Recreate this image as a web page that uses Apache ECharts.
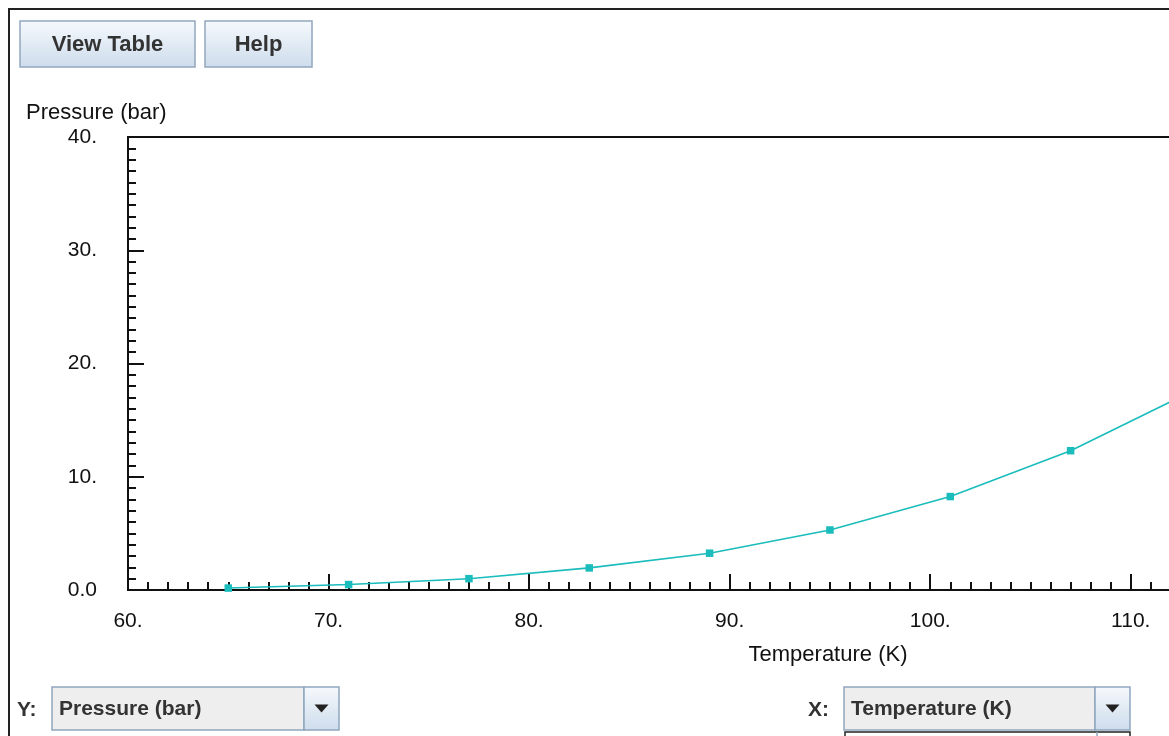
<!DOCTYPE html>
<html>
<head>
<meta charset="utf-8">
<script src="https://cdn.jsdelivr.net/npm/echarts@6/dist/echarts.min.js"></script>
<style>
  html, body { margin: 0; padding: 0; background: #ffffff; overflow: hidden; }
  #chart { width: 1220px; height: 736px; }
</style>
</head>
<body>
<div id="chart"></div>
<script>
// ---- data ----
const temperatures = [65, 71, 77, 83, 89, 95, 101, 107, 113];
const pressures = [0.17, 0.48, 1.0, 1.95, 3.25, 5.3, 8.25, 12.3, 17.5];

const xTickValues = [60, 70, 80, 90, 100, 110];
const xTickLabels = ['60.', '70.', '80.', '90.', '100.', '110.'];
const yTickValues = [0, 10, 20, 30, 40];
const yTickLabels = ['0.0', '10.', '20.', '30.', '40.'];

const xTitle = 'Temperature (K)';
const yTitle = 'Pressure (bar)';
const buttonLabels = ['View Table', 'Help'];
const yChoice = 'Pressure (bar)';
const xChoice = 'Temperature (K)';

// ---- chart ----
const FONT = '"Liberation Sans", Arial, sans-serif';
const chart = echarts.init(document.getElementById('chart'), null, { renderer: 'canvas' });

const seriesData = temperatures.map((t, i) => [t, pressures[i]]);

function btnGradient() {
  return {
    type: 'linear', x: 0, y: 0, x2: 0, y2: 1,
    colorStops: [
      { offset: 0, color: '#f6f9fc' },
      { offset: 1, color: '#cddcec' }
    ]
  };
}

function button(x, y, w, h, label) {
  return [
    {
      type: 'rect', x: x, y: y,
      shape: { width: w, height: h },
      style: { fill: btnGradient(), stroke: '#93a8bf', lineWidth: 1.5 }
    },
    {
      type: 'text', x: x + w / 2, y: y + h / 2 + 1,
      style: {
        text: label, fontSize: 22, fontWeight: 'bold', fontFamily: FONT,
        fill: '#333333', align: 'center', verticalAlign: 'middle'
      }
    }
  ];
}

function combo(x, y, w, h, arrowW, label) {
  return [
    {
      type: 'rect', x: x, y: y,
      shape: { width: w - arrowW, height: h },
      style: { fill: '#eeeeee', stroke: '#8ea6be', lineWidth: 1.5 }
    },
    {
      type: 'rect', x: x + w - arrowW, y: y,
      shape: { width: arrowW, height: h },
      style: { fill: btnGradient(), stroke: '#8ea6be', lineWidth: 1.5 }
    },
    {
      type: 'polygon',
      shape: {
        points: [
          [x + w - arrowW / 2 - 7, y + h / 2 - 4],
          [x + w - arrowW / 2 + 7, y + h / 2 - 4],
          [x + w - arrowW / 2, y + h / 2 + 4]
        ]
      },
      style: { fill: '#222222' }
    },
    {
      type: 'text', x: x + 7, y: y + h / 2 + 1,
      style: {
        text: label, fontSize: 21, fontWeight: 'bold', fontFamily: FONT,
        fill: '#333333', align: 'left', verticalAlign: 'middle'
      }
    }
  ];
}

const graphics = [].concat(
  [{
    type: 'rect', x: 9, y: 9,
    shape: { width: 1400, height: 900 },
    style: { fill: 'none', stroke: '#222222', lineWidth: 2 },
    z: 0
  }],
  button(20, 21, 175, 46, buttonLabels[0]),
  button(205, 21, 107, 46, buttonLabels[1]),
  [
    {
      type: 'text', x: 26, y: 113,
      style: { text: yTitle, fontSize: 22, fontFamily: FONT, fill: '#111111', align: 'left', verticalAlign: 'middle' }
    },
    {
      type: 'text', x: 828, y: 655,
      style: { text: xTitle, fontSize: 22, fontFamily: FONT, fill: '#111111', align: 'center', verticalAlign: 'middle' }
    },
    {
      type: 'text', x: 17, y: 710,
      style: { text: 'Y:', fontSize: 21, fontWeight: 'bold', fontFamily: FONT, fill: '#333333', align: 'left', verticalAlign: 'middle' }
    },
    {
      type: 'text', x: 808, y: 710,
      style: { text: 'X:', fontSize: 21, fontWeight: 'bold', fontFamily: FONT, fill: '#333333', align: 'left', verticalAlign: 'middle' }
    },
    {
      type: 'rect', x: 845, y: 732,
      shape: { width: 285, height: 40 },
      style: { fill: '#ffffff', stroke: '#222222', lineWidth: 1.5 }
    },
    {
      type: 'line',
      shape: { x1: 1097, y1: 732, x2: 1097, y2: 770 },
      style: { stroke: '#8ea6be', lineWidth: 1.5 }
    }
  ],
  combo(52, 687, 287, 43, 35, yChoice),
  combo(844, 687, 286, 43, 35, xChoice)
);

const option = {
  animation: false,
  backgroundColor: '#ffffff',
  grid: {
    left: 128, top: 137, width: 1083, height: 453,
    show: true, borderColor: '#111111', borderWidth: 2, backgroundColor: 'transparent'
  },
  xAxis: {
    type: 'value', min: 60, max: 114, interval: 10,
    axisLine: { show: true, onZero: false, lineStyle: { color: '#111111', width: 2 } },
    axisTick: { show: true, inside: true, length: 16, lineStyle: { color: '#111111', width: 2 } },
    minorTick: { show: true, splitNumber: 10, length: 8, lineStyle: { color: '#111111', width: 2 } },
    splitLine: { show: false },
    axisLabel: {
      margin: 21, fontSize: 21, fontFamily: FONT, color: '#111111',
      formatter: function (v) {
        const i = xTickValues.indexOf(v);
        return i >= 0 ? xTickLabels[i] : '';
      }
    }
  },
  yAxis: {
    type: 'value', min: 0, max: 40, interval: 10,
    axisLine: { show: true, onZero: false, lineStyle: { color: '#111111', width: 2 } },
    axisTick: { show: true, inside: true, length: 16, lineStyle: { color: '#111111', width: 2 } },
    minorTick: { show: true, splitNumber: 10, length: 8, lineStyle: { color: '#111111', width: 2 } },
    splitLine: { show: false },
    axisLabel: {
      margin: 31, fontSize: 21, fontFamily: FONT, color: '#111111',
      formatter: function (v) {
        const i = yTickValues.indexOf(v);
        return i >= 0 ? yTickLabels[i] : '';
      }
    }
  },
  series: [{
    type: 'line',
    data: seriesData,
    symbol: 'rect',
    symbolSize: 7.5,
    clip: true,
    itemStyle: { color: '#1bbcbc' },
    lineStyle: { color: '#1bbcbc', width: 1.6 },
    z: 3
  }],
  graphic: graphics
};

chart.setOption(option);
</script>
</body>
</html>
